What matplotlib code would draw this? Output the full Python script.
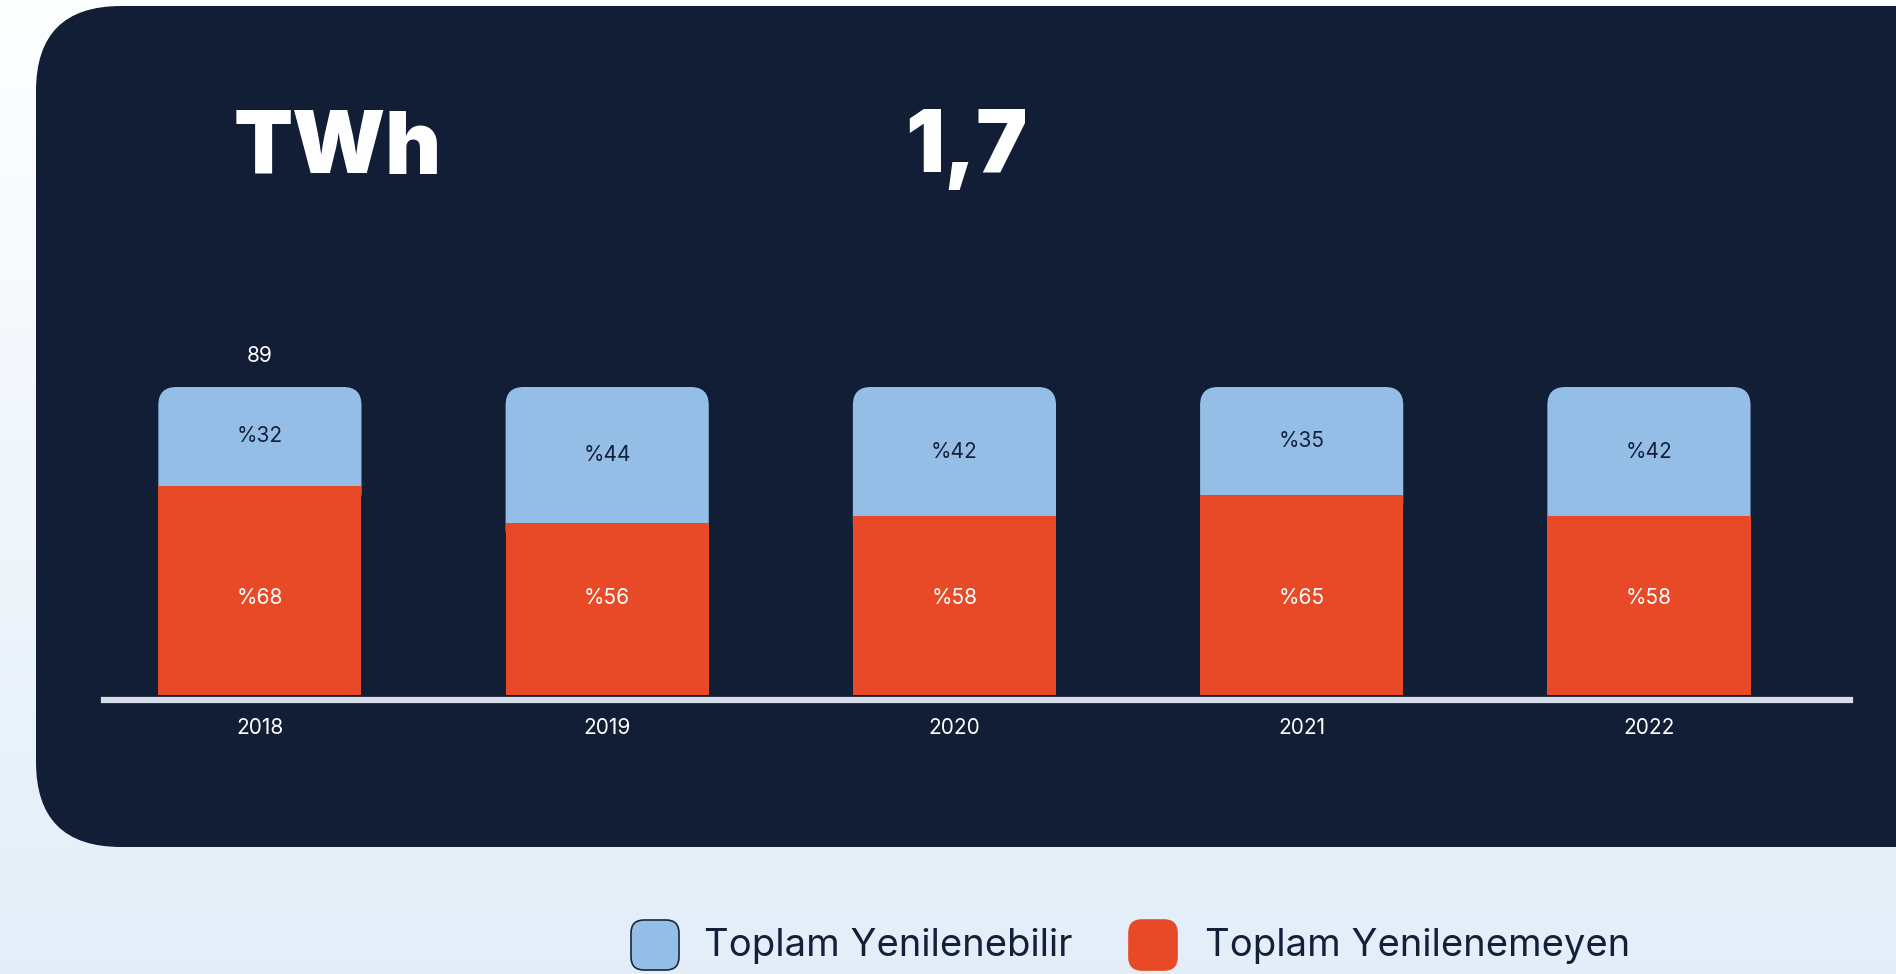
import numpy as np
import matplotlib
matplotlib.use('Agg')
import matplotlib.pyplot as plt
from matplotlib.patches import FancyBboxPatch

plt.rcParams['font.family'] = ['Inter', 'DejaVu Sans']

years = ['2018', '2019', '2020', '2021', '2022']
renewable = [32, 44, 42, 35, 42]        # Toplam Yenilenebilir (%)
non_renewable = [68, 56, 58, 65, 58]    # Toplam Yenilenemeyen (%)
totals = ['89', '', '', '', '']
unit_label = 'TWh'
headline = '1,7'
legend_labels = ['Toplam Yenilenebilir', 'Toplam Yenilenemeyen']

PANEL = '#121d36'
BLUE = '#95bee6'
RED = '#e84a27'
INK = '#13203a'
W, H = 1896, 974

fig = plt.figure(figsize=(W / 100, H / 100), dpi=100)

# background, panel, headline texts, legend in pixel coordinates
bg = fig.add_axes([0, 0, 1, 1])
bg.set_xlim(0, W)
bg.set_ylim(H, 0)
bg.axis('off')
grad = np.linspace(0, 1, 256).reshape(-1, 1)
top = np.array([0.995, 0.998, 1.0])
bottom = np.array([0.890, 0.933, 0.973])
img = top + grad[..., None] * (bottom - top)
bg.imshow(img, extent=[0, W, H, 0], aspect='auto', zorder=0)
bg.add_patch(FancyBboxPatch((36, 6), 1960, 841,
                            boxstyle='round,pad=0,rounding_size=85',
                            fc=PANEL, ec='none', zorder=1))
bg.text(234, 150, unit_label, color='white', fontsize=62, fontweight='black',
        va='center', ha='left', zorder=2)
bg.text(905, 150, headline, color='white', fontsize=62, fontweight='black',
        va='center', ha='left', zorder=2)

legend_items = [(631, 704, BLUE, '#1b2540'), (1129, 1205, RED, RED)]
for (px, tx, fc, ec), lab in zip(legend_items, legend_labels):
    bg.add_patch(FancyBboxPatch((px, 920), 48, 50,
                                boxstyle='round,pad=0,rounding_size=13',
                                fc=fc, ec=ec, lw=1.2, zorder=2))
    bg.text(tx, 946, lab, color=INK, fontsize=27.5, va='center', ha='left',
            zorder=2)

# chart axes: x index 0 -> 260px, 4 -> 1649px; y 0 -> 279px, 100 -> 587px
ax = fig.add_axes([104 / W, 279 / H, 1746 / W, 308 / H])
ax.patch.set_alpha(0)
x = np.arange(len(years))
ax.set_xlim(-0.449, 4.579)
ax.set_ylim(0, 100)
ax.axis('off')

bar_w = 0.585
px_per_x = 1746 / (4.579 + 0.449)
px_per_y = 308 / 100
r = 18 / px_per_x

red_bars = ax.bar(x, non_renewable, width=bar_w, color=RED, zorder=3)
blue_bars = ax.bar(x, renewable, bottom=non_renewable, width=bar_w,
                   color=BLUE, zorder=2, visible=False)
for b in blue_bars:
    # rounded-top version of the blue segment, tucked under the red one
    x0, y0 = b.get_x(), b.get_y() - 8
    ax.add_patch(FancyBboxPatch((x0, y0), b.get_width(), b.get_height() + 8,
                                boxstyle=f'round,pad=0,rounding_size={r}',
                                mutation_aspect=px_per_x / px_per_y,
                                fc=BLUE, ec='none', zorder=2))

for xi, rv, bv, tot in zip(x, non_renewable, renewable, totals):
    # red labels sit on one common line in the original
    ax.text(xi, 31.6, f'%{rv}', color='white', fontsize=15,
            ha='center', va='center', zorder=4)
    ax.text(xi, rv + bv / 2, f'%{bv}', color=INK, fontsize=15,
            ha='center', va='center', zorder=4)
    ax.text(xi, -10.7, years[xi], color='white', fontsize=15,
            ha='center', va='center', clip_on=False)
    if tot:
        ax.text(xi, 110.0, tot, color='white', fontsize=15,
                ha='center', va='center', clip_on=False)

ax.axhline(-1.6, color='#d5dde8', lw=4.5, zorder=1, clip_on=False)

fig.savefig('out.png', dpi=100)
